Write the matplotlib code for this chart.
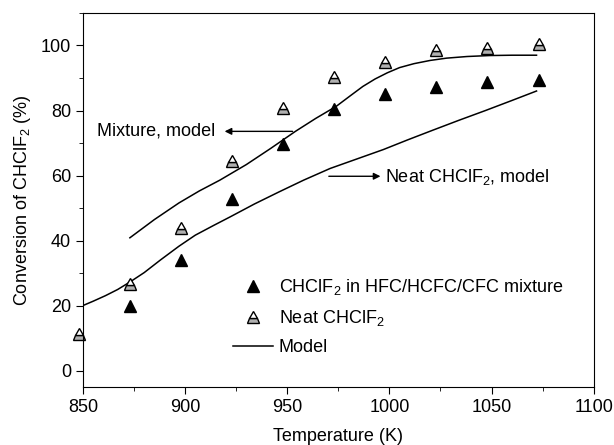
import matplotlib.pyplot as plt
from matplotlib.lines import Line2D
from matplotlib.ticker import MultipleLocator

plt.rcParams["font.family"] = ["Liberation Sans", "DejaVu Sans"]
plt.rcParams["mathtext.fontset"] = "custom"
plt.rcParams["mathtext.rm"] = "Liberation Sans"
plt.rcParams["mathtext.it"] = "Liberation Sans"
plt.rcParams["font.size"] = 13

# measured points
temp_mix = [873, 898, 923, 948, 973, 998, 1023, 1048, 1073]
conv_mix = [19.9, 34.0, 52.7, 69.8, 80.6, 85.2, 87.2, 88.8, 89.5]

temp_neat = [848, 873, 898, 923, 948, 973, 998, 1023, 1048, 1073]
conv_neat = [11.3, 26.7, 43.9, 64.5, 80.7, 90.4, 94.9, 98.6, 99.3, 100.5]

# model curves
model_mix_t = [873, 885, 897, 907, 917, 930, 942, 954, 964, 974, 981, 987, 993, 999, 1005, 1012, 1020, 1028, 1038, 1049, 1060, 1072]
model_mix_c = [40.9, 46.5, 51.6, 55.3, 58.6, 63.4, 68.4, 73.6, 77.6, 81.3, 84.6, 87.4, 89.7, 91.6, 93.2, 94.4, 95.4, 96.1, 96.6, 96.9, 97.0, 97.0]

model_neat_t = [849, 855, 861, 867, 873, 880, 888, 897, 905, 914, 922, 934, 946, 958, 971, 984, 997, 1009, 1021, 1034, 1047, 1060, 1072]
model_neat_c = [19.8, 21.4, 23.1, 25.0, 27.3, 30.2, 34.1, 38.3, 41.7, 44.7, 47.3, 51.3, 55.0, 58.6, 62.2, 65.1, 68.0, 71.0, 73.9, 77.0, 80.0, 83.1, 86.0]

fig = plt.figure(figsize=(6.14, 4.45), dpi=100)
ax = fig.add_axes([0.135, 0.130, 0.832, 0.841])

ax.plot(model_mix_t, model_mix_c, color="black", lw=1.1)
ax.plot(model_neat_t, model_neat_c, color="black", lw=1.1)
ax.plot(temp_mix, conv_mix, "^", color="black", ms=9, ls="none")
ax.plot(temp_neat, conv_neat, "^", ls="none", ms=9, mec="black", mew=1.0,
        fillstyle="bottom", mfc="#b0b0b0", mfcalt="white", clip_on=False)

ax.annotate("", xy=(918, 73.6), xytext=(954, 73.6),
            arrowprops=dict(arrowstyle="-|>", color="black", lw=1.0, mutation_scale=10))
ax.text(915, 73.6, "Mixture, model", ha="right", va="center")
ax.annotate("", xy=(997, 59.8), xytext=(969, 59.8),
            arrowprops=dict(arrowstyle="-|>", color="black", lw=1.0, mutation_scale=10))
ax.text(998, 59.7, "Neat CHClF$_2$, model", ha="left", va="center")

handles = [
    Line2D([], [], marker="^", color="black", ms=9, ls="none"),
    Line2D([], [], marker="^", ls="none", ms=9, mec="black", fillstyle="bottom",
           mfc="#b0b0b0", mfcalt="white"),
    Line2D([], [], color="black", lw=1.1),
]
labels = ["CHClF$_2$ in HFC/HCFC/CFC mixture", "Neat CHClF$_2$", "Model"]
ax.legend(handles, labels, loc="upper left", bbox_to_anchor=(0.27, 0.327),
          frameon=False, handlelength=2.2, handletextpad=0.3, labelspacing=0.6,
          borderpad=0.2)

ax.set_xlim(850, 1100)
ax.set_ylim(-5, 110)
ax.xaxis.set_major_locator(MultipleLocator(50))
ax.xaxis.set_minor_locator(MultipleLocator(25))
ax.yaxis.set_major_locator(MultipleLocator(20))
ax.yaxis.set_minor_locator(MultipleLocator(10))
ax.tick_params(which="major", length=5, direction="out")
ax.tick_params(which="minor", length=3, direction="out")
ax.set_xlabel("Temperature (K)", labelpad=9)
ax.set_ylabel("Conversion of CHClF$_2$ (%)", labelpad=6)

fig.savefig("out.png", dpi=100)
